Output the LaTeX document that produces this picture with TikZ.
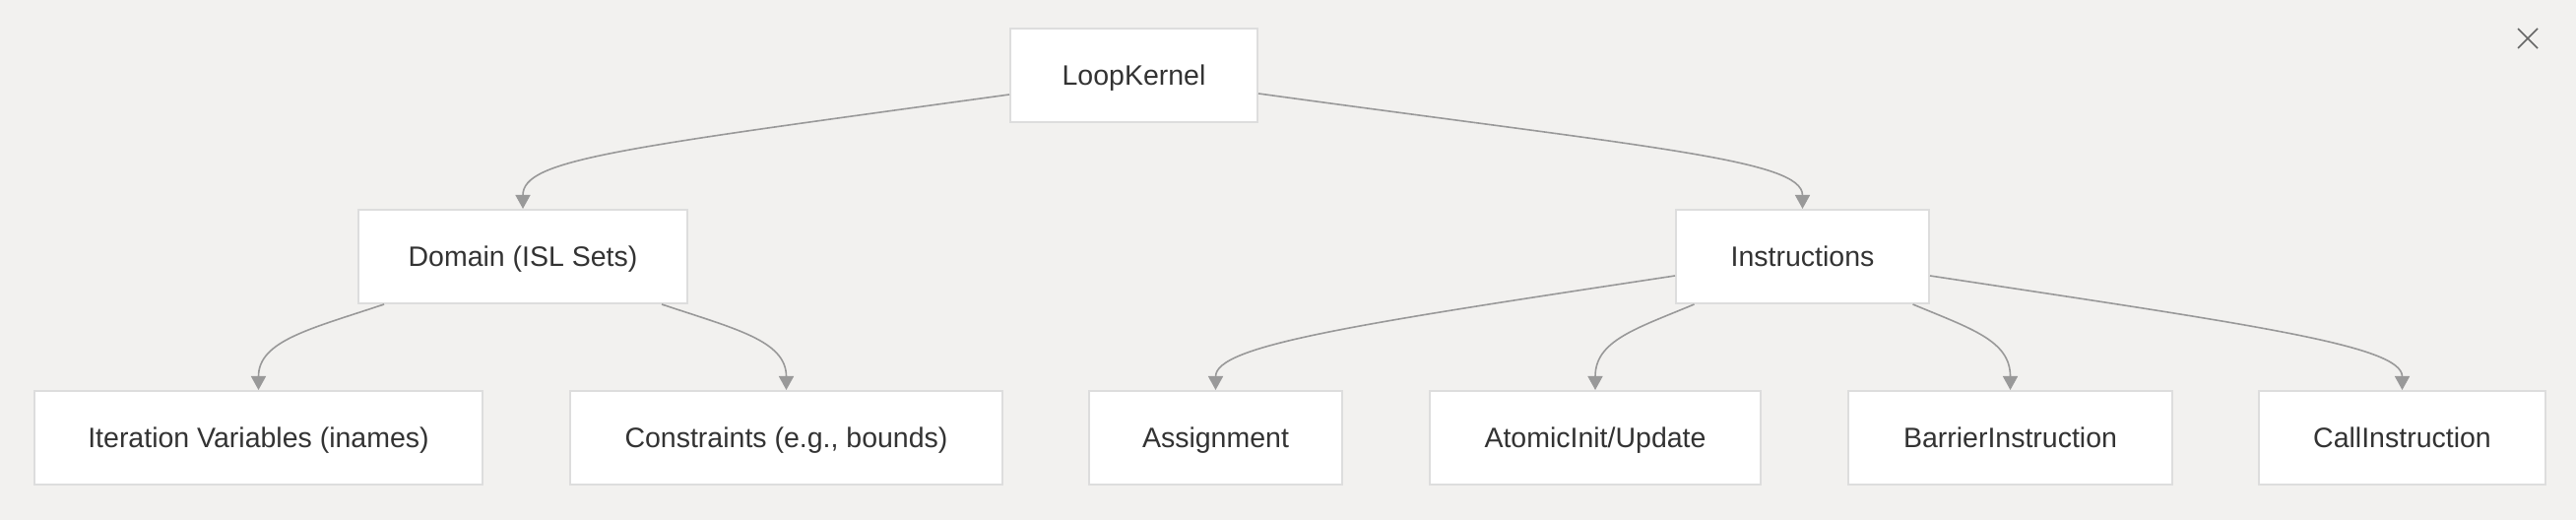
\documentclass[tikz,border=0pt]{standalone}
\usepackage{fontspec}
\setmainfont{Liberation Sans}
\usetikzlibrary{arrows.meta}
\definecolor{bg}{HTML}{F2F1EF}
\definecolor{boxline}{HTML}{DDDDDD}
\definecolor{boxtext}{HTML}{333333}
\definecolor{linkgray}{HTML}{999999}
\definecolor{closegray}{HTML}{666666}
\begin{document}
\begin{tikzpicture}[x=0.5pt,y=-0.5pt,
		box/.style={draw=boxline,fill=white,line width=1pt,minimum height=47.5pt,inner sep=0pt,text height=10.2pt,text depth=0pt,text=boxtext,font=\fontsize{14.25}{17}\selectfont},
		link/.style={draw=linkgray,line width=0.8pt,-{Triangle[length=7pt,width=7.5pt]}}]
		% background
		\fill[bg] (0,0) rectangle (2616,528);
		% top
		\node[box,minimum width=125.5pt] (lk) at (1151.5,76.5) {LoopKernel};
		% middle
		\node[box,minimum width=167pt] (dom) at (531,260.5) {Domain (ISL Sets)};
		\node[box,minimum width=128.5pt] (ins) at (1830.5,260.5) {Instructions};
		% bottom
		\node[box,minimum width=227.5pt] (itv) at (262.5,444.5) {Iteration Variables (inames)};
		\node[box,minimum width=219.5pt] (con) at (798.5,444.5) {Constraints (e.g., bounds)};
		\node[box,minimum width=128.5pt] (asg) at (1234.5,444.5) {Assignment};
		\node[box,minimum width=168pt] (atm) at (1620,444.5) {AtomicInit/Update};
		\node[box,minimum width=164.5pt] (bar) at (2041.5,444.5) {BarrierInstruction};
		\node[box,minimum width=145.5pt] (call) at (2439.5,444.5) {CallInstruction};
		% links
		\draw[link] ([yshift=-9.75pt]lk.west) .. controls +(-400,55) and +(0,-50) .. (dom.north);
		\draw[link] ([yshift=-9.25pt]lk.east) .. controls +(400,55) and +(0,-50) .. (ins.north);
		\draw[link] ([xshift=-70.5pt]dom.south) .. controls +(-75,25) and +(0,-50) .. (itv.north);
		\draw[link] ([xshift=70.5pt]dom.south) .. controls +(75,25) and +(0,-50) .. (con.north);
		\draw[link] ([yshift=-9.75pt]ins.west) .. controls +(-330,50) and +(0,-45) .. (asg.north);
		\draw[link] ([xshift=-55pt]ins.south) .. controls +(-60,25) and +(0,-50) .. (atm.north);
		\draw[link] ([xshift=56pt]ins.south) .. controls +(60,25) and +(0,-50) .. (bar.north);
		\draw[link] ([yshift=-9.75pt]ins.east) .. controls +(330,50) and +(0,-45) .. (call.north);
		% close mark
		\draw[closegray,line width=0.75pt] (2557,29) -- (2577,49) (2557,49) -- (2577,29);
\end{tikzpicture}
\end{document}
